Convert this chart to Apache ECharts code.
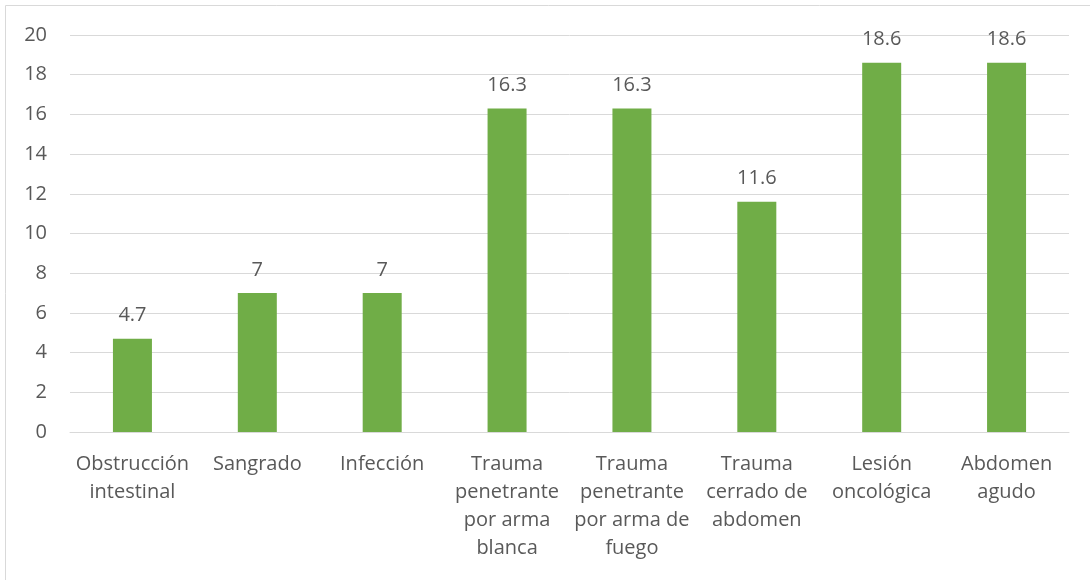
<!DOCTYPE html>
<html>
<head>
<meta charset="utf-8">
<script src="https://cdn.jsdelivr.net/npm/echarts@6/dist/echarts.min.js"></script>
<style>
  html, body { margin: 0; padding: 0; background: #fff; }
  #chart { width: 1090px; height: 580px; }
</style>
</head>
<body>
<div id="chart"></div>
<script>
const categories = [
  'Obstrucción\nintestinal',
  'Sangrado',
  'Infección',
  'Trauma\npenetrante\npor arma\nblanca',
  'Trauma\npenetrante\npor arma de\nfuego',
  'Trauma\ncerrado de\nabdomen',
  'Lesión\noncológica',
  'Abdomen\nagudo'
]
const values = [4.7, 7, 7, 16.3, 16.3, 11.6, 18.6, 18.6]

const textColor = '#595959'
const font = 'Open Sans, Liberation Sans, sans-serif'

const myChart = echarts.init(document.getElementById('chart'))
const option = {
  animation: false,
  textStyle: { fontFamily: font },
  graphic: [
    {
      type: 'rect',
      shape: { x: 5.5, y: 5.5, width: 1200, height: 700 },
      style: { fill: 'none', stroke: '#d9d9d9', lineWidth: 1 },
      silent: true
    }
  ],
  grid: { left: 70, right: 21, top: 35, bottom: 148 },
  xAxis: {
    type: 'category',
    data: categories,
    axisLine: { lineStyle: { color: '#d9d9d9', width: 1 } },
    axisTick: { show: false },
    axisLabel: {
      color: textColor,
      fontSize: 20,
      lineHeight: 28,
      margin: 18,
      interval: 0
    }
  },
  yAxis: {
    type: 'value',
    min: 0,
    max: 20,
    interval: 2,
    axisLine: { show: false },
    axisTick: { show: false },
    axisLabel: { color: textColor, fontSize: 20, margin: 23 },
    splitLine: { lineStyle: { color: '#d9d9d9', width: 1 } }
  },
  series: [
    {
      type: 'bar',
      data: values,
      barWidth: 39,
      itemStyle: { color: '#70ad47' },
      label: {
        show: true,
        position: 'top',
        distance: 13,
        color: textColor,
        fontSize: 20
      }
    }
  ]
}
option && myChart.setOption(option)
</script>
</body>
</html>
